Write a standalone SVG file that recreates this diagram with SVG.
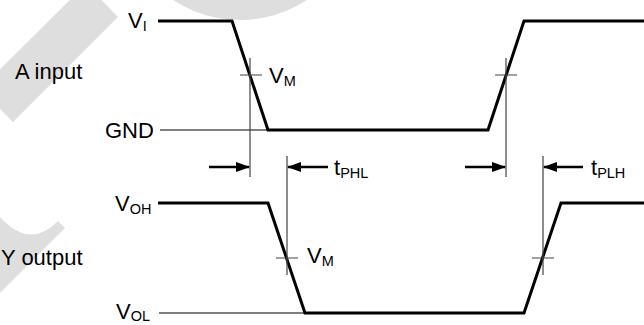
<svg xmlns="http://www.w3.org/2000/svg" width="644" height="325" viewBox="0 0 644 325">
<style>
.wm{fill:#dedede;stroke:none}
.wave{fill:none;stroke:#000;stroke-width:3;stroke-linejoin:miter}
.thin{fill:none;stroke:#000;stroke-width:1.2}
.mark{fill:none;stroke:#444;stroke-width:1.2}
.arr{fill:none;stroke:#000;stroke-width:2.5}
.lbl{font-family:"Liberation Sans",Arial,sans-serif;font-size:22px;fill:#000}
.sub{font-size:14.5px}
</style>
<defs>
<marker id="ah" markerWidth="14" markerHeight="10" refX="13" refY="5" orient="auto" markerUnits="userSpaceOnUse">
<path d="M0,0 L14,5 L0,10 Z" fill="#000"/>
</marker>
</defs>
<g id="watermark">
<polygon class="wm" points="118,17 13,122 -20,89 86,-16"/>
<circle class="wm" cx="240" cy="-102" r="122"/>
<path class="wm" d="M0,217 Q30,250 58,221 L65,228 L0,293 Z"/>
</g>
<g id="labels">
<text class="lbl" x="15" y="79">A input</text>
<text class="lbl" x="1" y="265">Y output</text>
</g>
<g id="input-wave">
<path class="wave" d="M158,21 L232,21 L268,130 L488,130 L524,21 L644,21"/>
<path class="thin" d="M160,130 L268,130"/>
<text class="lbl" x="128" y="28">V<tspan class="sub" dy="3">I</tspan></text>
<text class="lbl" x="105" y="138">GND</text>
<text class="lbl" x="269" y="83">V<tspan class="sub" dy="3">M</tspan></text>
</g>
<g id="output-wave">
<path class="wave" d="M158,203 L268,203 L305,313 L524,313 L561,203 L644,203"/>
<path class="thin" d="M159,313 L305,313"/>
<text class="lbl" x="115" y="211">V<tspan class="sub" dy="3">OH</tspan></text>
<text class="lbl" x="116" y="319">V<tspan class="sub" dy="2">OL</tspan></text>
<text class="lbl" x="307" y="263">V<tspan class="sub" dy="3">M</tspan></text>
</g>
<g id="connectors">
<path class="mark" d="M250,58 L250,177 M240,75 L262,75"/>
<path class="mark" d="M506,58 L506,177 M495,75 L517,75"/>
<path class="mark" d="M287,156 L287,275 M276,258 L298,258"/>
<path class="mark" d="M543,156 L543,275 M532,258 L554,258"/>
<path class="arr" d="M209,167 L249,167" marker-end="url(#ah)"/>
<path class="arr" d="M328,167 L288,167" marker-end="url(#ah)"/>
<path class="arr" d="M465,167 L505,167" marker-end="url(#ah)"/>
<path class="arr" d="M583,167 L544,167" marker-end="url(#ah)"/>
</g>
<g id="timing-labels">
<text class="lbl" x="334" y="175">t<tspan class="sub" dy="3">PHL</tspan></text>
<text class="lbl" x="591" y="175">t<tspan class="sub" dy="3">PLH</tspan></text>
</g>
</svg>
